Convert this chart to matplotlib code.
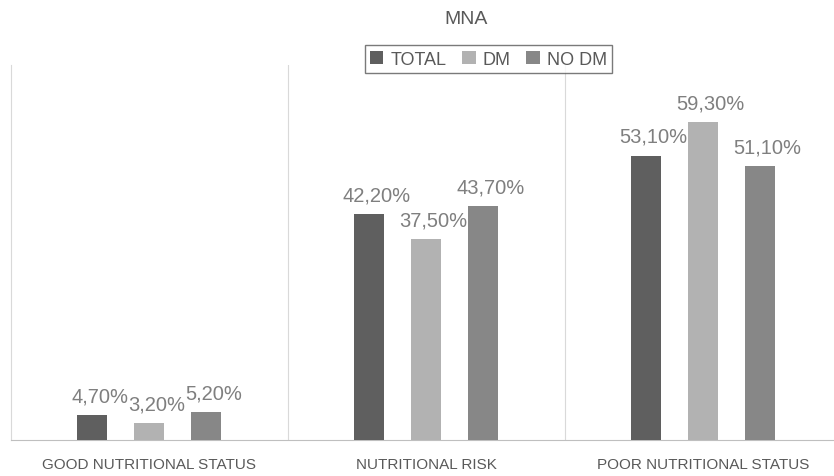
import numpy as np
import matplotlib.pyplot as plt

plt.rcParams['font.family'] = ['Liberation Sans', 'DejaVu Sans']

# MNA results by group
categories = ['GOOD NUTRITIONAL STATUS', 'NUTRITIONAL RISK', 'POOR NUTRITIONAL STATUS']
series_names = ['TOTAL', 'DM', 'NO DM']
total = [4.7, 42.2, 53.1]
dm = [3.2, 37.5, 59.3]
no_dm = [5.2, 43.7, 51.1]
colors = ['#5f5f5f', '#b2b2b2', '#878787']

fig = plt.figure(figsize=(8.34, 4.77), dpi=100)
ax = fig.add_axes([0.0126, 0.0755, 0.9964, 0.786])

x = np.arange(len(categories))
width = 0.108
step = 0.206
for i, (name, vals, c) in enumerate(zip(series_names, [total, dm, no_dm], colors)):
    pos = x + (i - 1) * step
    bars = ax.bar(pos, vals, width, color=c, label=name, zorder=3)
    for b, v in zip(bars, vals):
        ax.annotate(f'{v:.2f}%'.replace('.', ','),
                    (b.get_x() + b.get_width() / 2, v),
                    xytext=(5.5, 7), textcoords='offset points',
                    ha='center', va='bottom', fontsize=14.5, color='#7f7f7f',
                    zorder=4)

ax.set_xlim(-0.5, 2.5)
ax.set_ylim(0, 70)
ax.set_yticks([])
ax.set_xticks(x)
ax.set_xticklabels(categories, fontsize=11, color='#595959')
ax.tick_params(axis='x', length=0, pad=12)

# category separators
for sep in [0.5, 1.5]:
    ax.axvline(sep, color='#d9d9d9', lw=0.8, zorder=1)
for s in ['top', 'right']:
    ax.spines[s].set_visible(False)
ax.spines['left'].set_color('#d9d9d9')
ax.spines['left'].set_linewidth(0.8)
ax.spines['bottom'].set_color('#bfbfbf')
ax.spines['bottom'].set_linewidth(0.8)

fig.text(0.559, 0.96, 'MNA', ha='center', va='center', fontsize=14, color='#595959')

leg = fig.legend(loc='center', bbox_to_anchor=(0.5857, 0.874), ncol=3, frameon=True,
                 fontsize=13, handlelength=0.75, handleheight=0.75, handletextpad=0.4,
                 columnspacing=0.85, borderpad=0.3, borderaxespad=0, fancybox=False,
                 labelcolor='#595959')
leg.get_frame().set_edgecolor('#595959')
leg.get_frame().set_linewidth(1.0)

fig.savefig('out.png', dpi=100)
